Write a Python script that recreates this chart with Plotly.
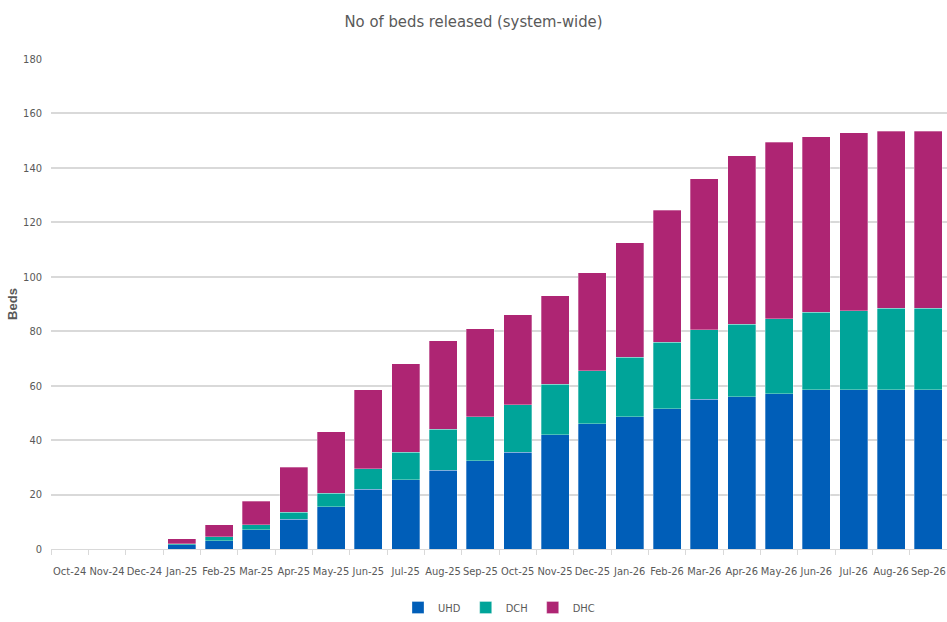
import plotly.graph_objects as go

months = ["Oct-24", "Nov-24", "Dec-24", "Jan-25", "Feb-25", "Mar-25", "Apr-25", "May-25",
          "Jun-25", "Jul-25", "Aug-25", "Sep-25", "Oct-25", "Nov-25", "Dec-25", "Jan-26",
          "Feb-26", "Mar-26", "Apr-26", "May-26", "Jun-26", "Jul-26", "Aug-26", "Sep-26"]

uhd = [0, 0, 0, 1.5, 3, 7, 11, 15.5, 22, 25.5, 29, 32.5, 35.5, 42, 46, 48.5,
       51.5, 55, 56, 57, 58.5, 58.5, 58.5, 58.5]
dch = [0, 0, 0, 0.5, 1.5, 2, 2.5, 5, 7.5, 10, 15, 16, 17.5, 18.5, 19.5, 22,
       24.5, 25.5, 26.5, 27.5, 28.5, 29, 30, 30]
dhc = [0, 0, 0, 1.8, 4.5, 8.5, 16.5, 22.5, 29, 32.5, 32.5, 32.5, 33, 32.5, 36, 42,
       48.5, 55.5, 62, 65, 64.5, 65.5, 65, 65]

series = [("UHD", uhd, "#005EB8"), ("DCH", dch, "#00A499"), ("DHC", dhc, "#AE2573")]

FONT = "DejaVu Sans Condensed, Liberation Sans Narrow, Liberation Sans, Arial, sans-serif"
GREY = "#595959"

fig = go.Figure()
for name, vals, col in series:
    fig.add_trace(go.Bar(
        x=months, y=vals, name=name,
        marker=dict(color=col, line=dict(color="rgba(255,255,255,0.6)", width=0.5)),
    ))

fig.update_layout(
    barmode="stack",
    bargap=0.25,
    width=947, height=622,
    margin=dict(l=51, r=0, t=59, b=72),
    plot_bgcolor="white",
    paper_bgcolor="white",
    font=dict(family=FONT, color=GREY, size=11),
    title=dict(text="No of beds released (system-wide)", x=0.5, xanchor="center",
               y=0.966, yanchor="middle",
               font=dict(family=FONT, size=16.5, color=GREY)),
    legend=dict(orientation="h", x=0.5, xanchor="center", y=-0.12, yanchor="middle",
                font=dict(family=FONT, size=11, color=GREY),
                itemwidth=30, traceorder="normal"),
    xaxis=dict(
        automargin=False,
        showgrid=False, showline=True, linecolor="#d9d9d9", linewidth=1,
        ticks="outside", tickson="boundaries", ticklen=5, tickcolor="#d9d9d9",
        tickangle=0, ticklabelstandoff=12,
        tickfont=dict(family=FONT, size=11, color=GREY),
    ),
    yaxis=dict(
        automargin=False,
        range=[0, 180], dtick=20, showgrid=True, gridcolor="#d9d9d9", gridwidth=1.5,
        zeroline=False, showline=False, ticks="", ticklabelstandoff=8,
        tickfont=dict(family=FONT, size=11, color=GREY),
        title=dict(text="<b>Beds</b>", standoff=2,
                   font=dict(family="Liberation Sans, Arial, sans-serif", size=13, color=GREY)),
    ),
)

fig.write_html("out.html")
